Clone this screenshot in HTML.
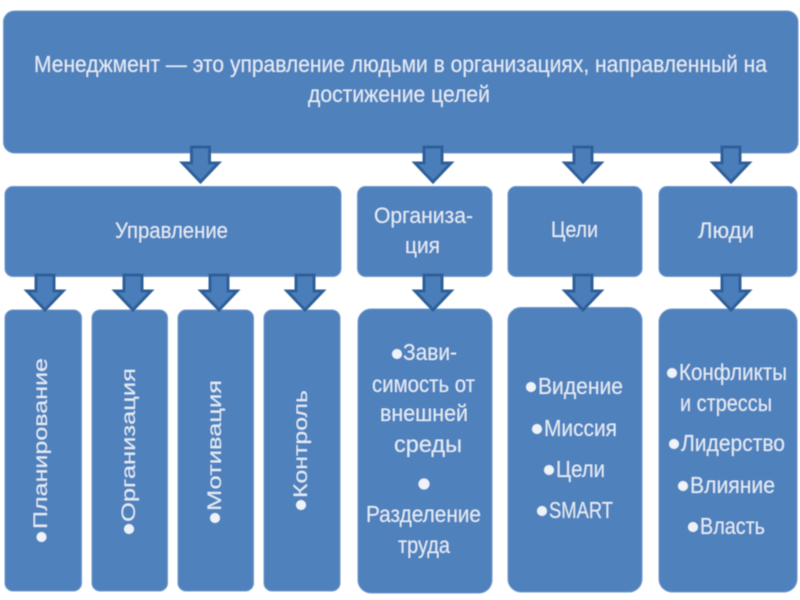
<!DOCTYPE html>
<html lang="ru">
<head>
<meta charset="utf-8">
<title>Менеджмент</title>
<style>
html,body{margin:0;padding:0;background:#fff;width:800px;height:600px;overflow:hidden}
svg{display:block}
text{font-family:"Liberation Sans",sans-serif;fill:#e3ecf6}
.b{fill:#4f81bd;stroke:#6f97c8;stroke-width:1}
.a{fill:#4a7ebb;stroke:#2f5f98;stroke-width:3;stroke-linejoin:miter}
.d{fill:#eef3fa}
</style>
</head>
<body>
<svg xmlns="http://www.w3.org/2000/svg" width="800" height="600" viewBox="0 0 800 600">
<defs>
<filter id="s" x="-2%" y="-2%" width="104%" height="104%"><feGaussianBlur stdDeviation="0.6"/></filter>
<path id="u" d="M-9,0V16H-18L0,35 18,16H9V0Z"/>
</defs>
<g filter="url(#s)">
<rect class="b" x="3.500" y="11" width="794.500" height="142" rx="11"/>
<rect class="b" x="5" y="186.500" width="336" height="90" rx="8"/>
<rect class="b" x="357.500" y="186.500" width="134.500" height="90" rx="8"/>
<rect class="b" x="508" y="186.500" width="134" height="90" rx="8"/>
<rect class="b" x="659" y="186.500" width="138" height="90" rx="8"/>
<rect class="b" x="5" y="310" width="76.500" height="281" rx="8"/>
<rect class="b" x="92" y="310" width="75.500" height="281" rx="8"/>
<rect class="b" x="178" y="310" width="75.500" height="281" rx="8"/>
<rect class="b" x="264" y="310" width="76" height="281" rx="8"/>
<rect class="b" x="358" y="309" width="134" height="284" rx="13"/>
<rect class="b" x="508" y="307.500" width="134" height="284.500" rx="13"/>
<rect class="b" x="659" y="309" width="138" height="283" rx="13"/>

<g class="a">
<use href="#u" x="200.500" y="147"/><use href="#u" x="433" y="147"/><use href="#u" x="583" y="147"/><use href="#u" x="731" y="147"/>
<use href="#u" x="45" y="275"/><use href="#u" x="133" y="275"/><use href="#u" x="219" y="275"/><use href="#u" x="305" y="275"/>
<use href="#u" x="433" y="275"/><use href="#u" x="583" y="275"/><use href="#u" x="731" y="275"/>
</g>

<text x="34" y="72" font-size="23" textLength="733" lengthAdjust="spacingAndGlyphs">Менеджмент — это управление людьми в организациях, направленный  на</text>
<text x="308" y="102" font-size="23" textLength="182" lengthAdjust="spacingAndGlyphs">достижение целей</text>

<text x="115" y="238" font-size="22" textLength="113" lengthAdjust="spacingAndGlyphs">Управление</text>
<text x="374" y="223" font-size="22" textLength="99" lengthAdjust="spacingAndGlyphs">Организа-</text>
<text x="405" y="253" font-size="22" textLength="35" lengthAdjust="spacingAndGlyphs">ция</text>
<text x="551" y="237" font-size="22" textLength="47" lengthAdjust="spacingAndGlyphs">Цели</text>
<text x="698" y="238" font-size="22" textLength="56" lengthAdjust="spacingAndGlyphs">Люди</text>

<circle class="d" cx="41.500" cy="537" r="5"/>
<text transform="translate(47,529) rotate(-90)" font-size="19" textLength="171" lengthAdjust="spacingAndGlyphs">Планирование</text>
<circle class="d" cx="129" cy="529" r="5"/>
<text transform="translate(135,522) rotate(-90)" font-size="19" textLength="154" lengthAdjust="spacingAndGlyphs">Организация</text>
<circle class="d" cx="215" cy="518" r="5"/>
<text transform="translate(221,511) rotate(-90)" font-size="19" textLength="131" lengthAdjust="spacingAndGlyphs">Мотивация</text>
<circle class="d" cx="301" cy="505" r="5"/>
<text transform="translate(307,498) rotate(-90)" font-size="19" textLength="108" lengthAdjust="spacingAndGlyphs">Контроль</text>

<g font-size="23">
<circle class="d" cx="397" cy="354" r="5"/>
<text x="403" y="360" textLength="54" lengthAdjust="spacingAndGlyphs">Зави-</text>
<text x="372" y="392" textLength="103" lengthAdjust="spacingAndGlyphs">симость от</text>
<text x="380" y="421" textLength="88" lengthAdjust="spacingAndGlyphs">внешней</text>
<text x="394" y="452" textLength="68" lengthAdjust="spacingAndGlyphs">среды</text>
<circle class="d" cx="424" cy="484" r="5.500"/>
<text x="366" y="522" textLength="115" lengthAdjust="spacingAndGlyphs">Разделение</text>
<text x="398" y="553" textLength="52" lengthAdjust="spacingAndGlyphs">труда</text>

<circle class="d" cx="531" cy="387" r="5"/>
<text x="538" y="394" textLength="85" lengthAdjust="spacingAndGlyphs">Видение</text>
<circle class="d" cx="537" cy="429" r="5"/>
<text x="544" y="436" textLength="73" lengthAdjust="spacingAndGlyphs">Миссия</text>
<circle class="d" cx="549" cy="470" r="5"/>
<text x="556" y="477" textLength="49" lengthAdjust="spacingAndGlyphs">Цели</text>
<circle class="d" cx="542" cy="511" r="5"/>
<text x="549" y="518" textLength="64" lengthAdjust="spacingAndGlyphs">SMART</text>

<circle class="d" cx="672" cy="373" r="5"/>
<text x="679" y="380" textLength="108" lengthAdjust="spacingAndGlyphs">Конфликты</text>
<text x="680" y="411" textLength="92" lengthAdjust="spacingAndGlyphs">и стрессы</text>
<circle class="d" cx="674" cy="444" r="5"/>
<text x="681" y="451" textLength="104" lengthAdjust="spacingAndGlyphs">Лидерство</text>
<circle class="d" cx="683" cy="486" r="5"/>
<text x="690" y="493" textLength="85" lengthAdjust="spacingAndGlyphs">Влияние</text>
<circle class="d" cx="693" cy="527" r="5"/>
<text x="700" y="534" textLength="65" lengthAdjust="spacingAndGlyphs">Власть</text>
</g>
</g>
</svg>
</body>
</html>
